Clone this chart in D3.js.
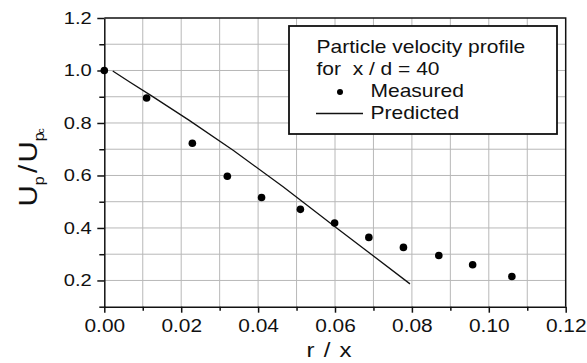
<!DOCTYPE html>
<html>
<head>
<meta charset="utf-8">
<script src="https://cdn.jsdelivr.net/npm/d3@7"></script>
<style>
  body { margin: 0; background: #fff; }
  svg { display: block; font-family: "Liberation Sans", Arial, sans-serif; }
  .axis path, .axis line { stroke: #111; stroke-width: 1.5; }
  .axis text { fill: #111; }
</style>
</head>
<body>
<svg id="chart" width="587" height="363"></svg>
<script>
/* ---------- Data ---------- */
const xTicks = [0, 0.02, 0.04, 0.06, 0.08, 0.10, 0.12];
const xMinorTicks = [0.01, 0.03, 0.05, 0.07, 0.09, 0.11];
const yTicks = [0.2, 0.4, 0.6, 0.8, 1.0, 1.2];
const yMinorTicks = [0.1, 0.3, 0.5, 0.7, 0.9, 1.1];
const xGrid = [0.01, 0.02, 0.03, 0.04, 0.05, 0.06, 0.07, 0.08, 0.09, 0.10, 0.11];
const yGrid = [0.2, 0.3, 0.4, 0.5, 0.6, 0.7, 0.8, 0.9, 1.0, 1.1];

// measured points (r/x, Up/Upc)
const measuredX = [0.000, 0.011, 0.0229, 0.032, 0.0409, 0.051, 0.0599, 0.0688, 0.0778, 0.087, 0.0958, 0.106];
const measuredY = [1.000, 0.895, 0.723, 0.597, 0.516, 0.471, 0.419, 0.364, 0.326, 0.295, 0.260, 0.215];

// predicted curve
const predictedX = [0.0022, 0.0067, 0.012, 0.022, 0.0335, 0.0465, 0.060, 0.0795];
const predictedY = [0.998, 0.955, 0.906, 0.811, 0.696, 0.557, 0.405, 0.187];

const legendLines = ["Particle velocity profile", "for  x / d = 40"];

/* ---------- Setup ---------- */
const svg = d3.select("#chart");
const plot = {left: 104.3, right: 565.7, top: 18, bottom: 306.7};

const x = d3.scaleLinear().domain([0, 0.12]).range([plot.left, plot.right]);
const y = d3.scaleLinear().domain([0.1, 1.2]).range([plot.bottom, plot.top]);

// grid
const grid = svg.append("g").attr("stroke", "#b8b8b8").attr("stroke-width", 1);
grid.selectAll(".vx").data(xGrid).join("line")
    .attr("x1", d => x(d)).attr("x2", d => x(d))
    .attr("y1", plot.top).attr("y2", plot.bottom);
grid.selectAll(".hy").data(yGrid).join("line")
    .attr("x1", plot.left).attr("x2", plot.right)
    .attr("y1", d => y(d)).attr("y2", d => y(d));

// top + right frame
svg.append("path")
    .attr("d", `M${plot.left},${plot.top}H${plot.right}V${plot.bottom}`)
    .attr("fill", "none").attr("stroke", "#111").attr("stroke-width", 1.5);

/* ---------- Axes ---------- */
const xAxis = svg.append("g").attr("class", "axis")
    .attr("transform", `translate(0,${plot.bottom})`)
    .call(d3.axisBottom(x).tickValues(xTicks).tickFormat(d3.format(".2f")).tickSize(6).tickSizeOuter(0));
xAxis.selectAll("text")
    .attr("y", 25).attr("dy", 0)
    .style("font-size", "18px")
    .attr("transform", "scale(1.16,1)");
svg.append("g").attr("class", "axis")
    .attr("transform", `translate(0,${plot.bottom})`)
    .call(d3.axisBottom(x).tickValues(xMinorTicks).tickFormat("").tickSize(4).tickSizeOuter(0))
    .select(".domain").remove();

const yAxis = svg.append("g").attr("class", "axis")
    .attr("transform", `translate(${plot.left},0)`)
    .call(d3.axisLeft(y).tickValues(yTicks).tickFormat(d3.format(".1f")).tickSize(7).tickSizeOuter(0));
yAxis.selectAll("text")
    .attr("x", -10.3)
    .style("font-size", "16.5px")
    .attr("transform", "scale(1.22,1)");
svg.append("g").attr("class", "axis")
    .attr("transform", `translate(${plot.left},0)`)
    .call(d3.axisLeft(y).tickValues(yMinorTicks).tickFormat("").tickSize(5).tickSizeOuter(0))
    .select(".domain").remove();

// axis titles
svg.append("text")
    .attr("transform", "translate(329,356.5) scale(1.2,1)")
    .attr("text-anchor", "middle")
    .style("font-size", "20px").style("word-spacing", "2px")
    .attr("fill", "#111")
    .text("r / x");

const yTitle = svg.append("text")
    .attr("transform", "translate(36.5,206.5) rotate(-90) scale(1.15,1)")
    .attr("fill", "#111")
    .style("font-size", "25.5px");
yTitle.append("tspan").text("U");
yTitle.append("tspan").attr("dy", 7).style("font-size", "14px").text("p");
yTitle.append("tspan").attr("dy", -7).attr("dx", 3).text("/");
yTitle.append("tspan").attr("dx", 2).text("U");
yTitle.append("tspan").attr("dy", 7).style("font-size", "14px").text("p");
yTitle.append("tspan").attr("dx", -1).style("font-size", "9px").text("c");

/* ---------- Marks ---------- */
const predicted = predictedX.map((d, i) => [d, predictedY[i]]);
svg.append("path")
    .datum(predicted)
    .attr("fill", "none").attr("stroke", "#111").attr("stroke-width", 1.3)
    .attr("d", d3.line().x(d => x(d[0])).y(d => y(d[1])));

const measured = measuredX.map((d, i) => ({x: d, y: measuredY[i]}));
svg.append("g").selectAll("circle")
    .data(measured)
    .join("circle")
    .attr("cx", d => x(d.x)).attr("cy", d => y(d.y))
    .attr("r", 3.8).attr("fill", "#000");

/* ---------- Legend ---------- */
const lg = svg.append("g");
lg.append("rect")
    .attr("x", 289).attr("y", 26).attr("width", 268).attr("height", 108)
    .attr("fill", "#fff").attr("stroke", "#111").attr("stroke-width", 1.8);
lg.selectAll(".title").data(legendLines).join("text")
    .attr("transform", (d, i) => `translate(316.5,${53 + i * 22}) scale(1.2,1)`)
    .style("font-size", "17.5px").style("white-space", "pre").attr("fill", "#111")
    .text(d => d);
lg.append("circle").attr("cx", 340).attr("cy", 92).attr("r", 3).attr("fill", "#000");
lg.append("text")
    .attr("transform", "translate(370.5,97) scale(1.2,1)")
    .style("font-size", "17.5px").attr("fill", "#111")
    .text("Measured");
lg.append("line")
    .attr("x1", 316).attr("x2", 363).attr("y1", 113.5).attr("y2", 113.5)
    .attr("stroke", "#111").attr("stroke-width", 1.3);
lg.append("text")
    .attr("transform", "translate(370.5,119) scale(1.2,1)")
    .style("font-size", "17.5px").attr("fill", "#111")
    .text("Predicted");
</script>
</body>
</html>
